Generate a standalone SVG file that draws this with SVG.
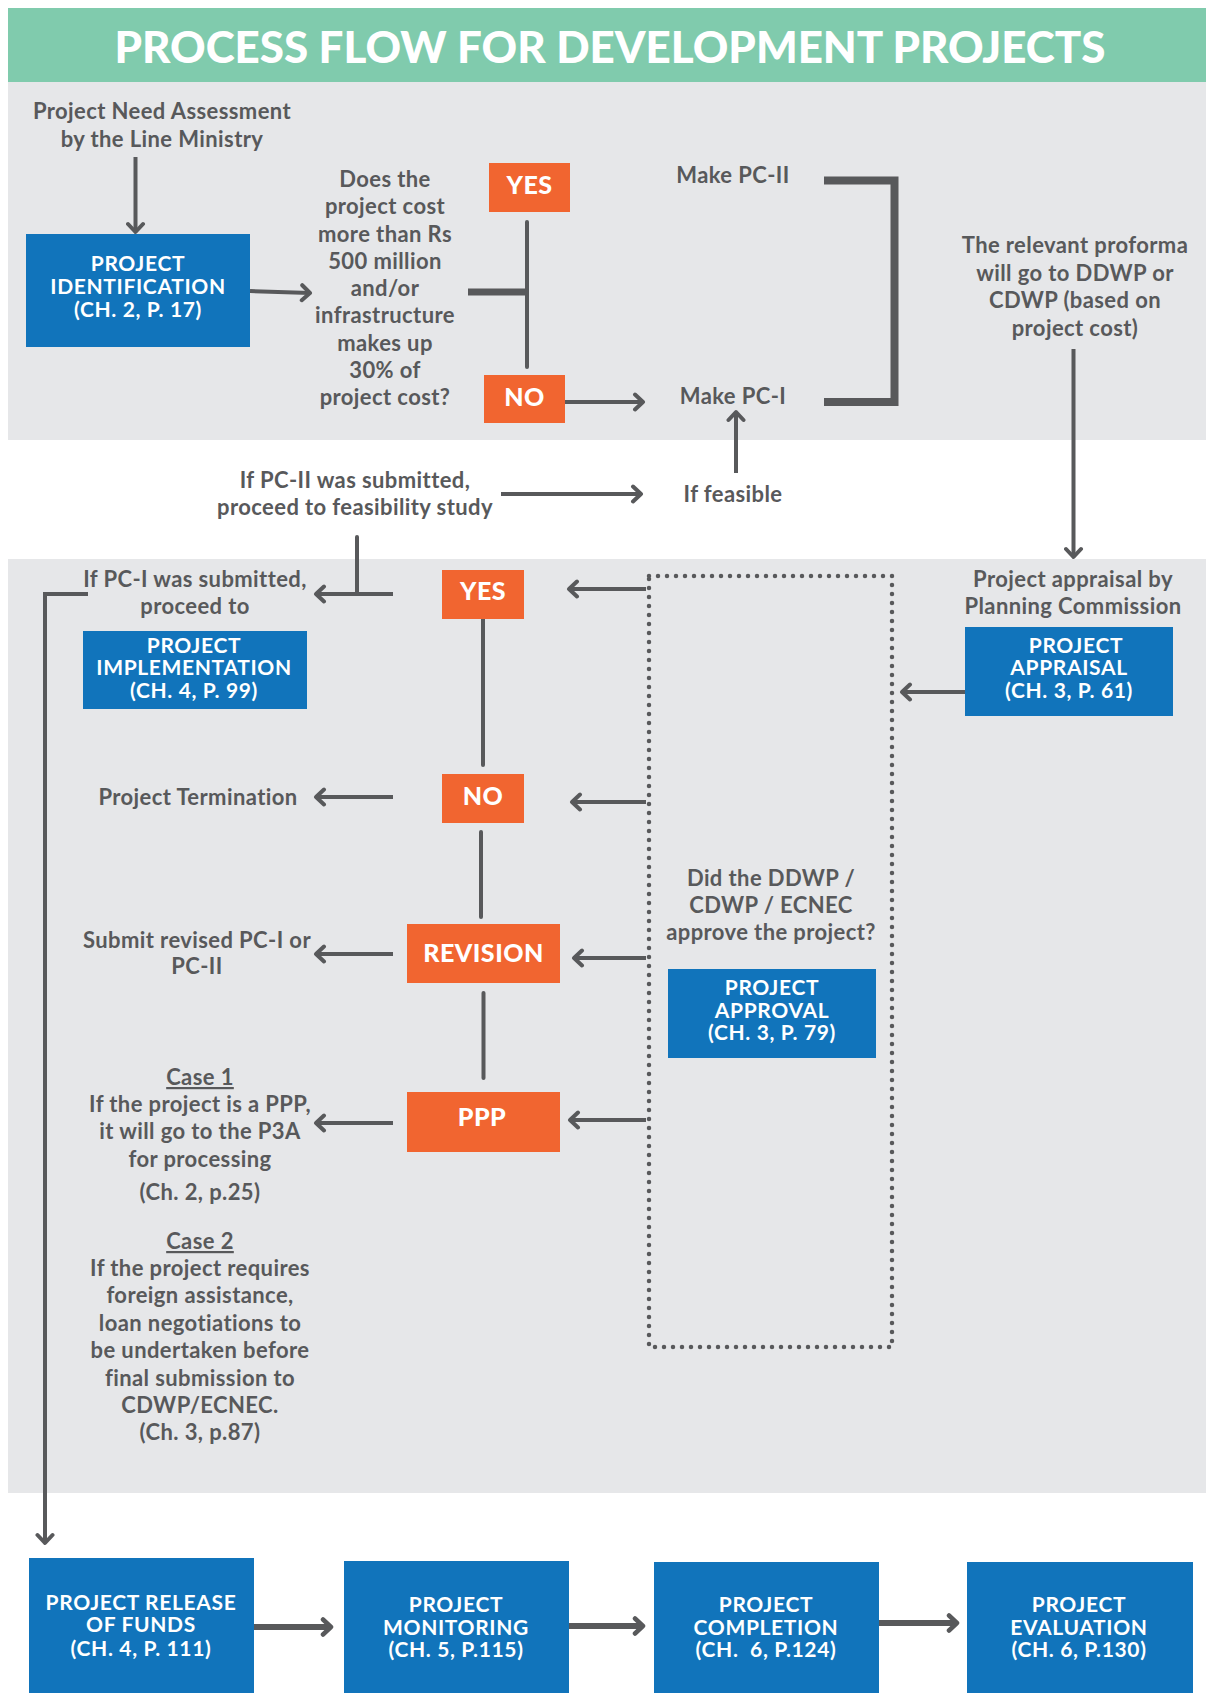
<svg xmlns="http://www.w3.org/2000/svg" width="1206" height="1693" viewBox="0 0 1206 1693">
<defs>
<style>
.bg{fill:#ffffff}
.band{fill:#80CBAD}
.panel{fill:#E6E7E9}
.blue{fill:#1174BB}
.orange{fill:#F16530}
.t{font-family:Lato,"Liberation Sans",sans-serif;font-weight:700;font-size:22px;letter-spacing:0.4px;fill:#58595B;text-anchor:middle}
.w{font-family:Lato,"Liberation Sans",sans-serif;font-weight:700;font-size:21px;letter-spacing:0.65px;fill:#ffffff;text-anchor:middle}
.o{font-family:Lato,"Liberation Sans",sans-serif;font-weight:900;font-size:25px;letter-spacing:0.5px;fill:#ffffff;text-anchor:middle}
.title{font-family:Lato,"Liberation Sans",sans-serif;font-weight:900;font-size:44px;fill:#ffffff;text-anchor:middle}
.c{fill:none;stroke:#58595B;stroke-width:4;stroke-linecap:round}
.ca{fill:none;stroke:#58595B;stroke-width:4;stroke-linecap:butt;marker-end:url(#ah)}
.thick{fill:none;stroke:#58595B;stroke-width:8;stroke-linejoin:miter}
.dot{fill:none;stroke:#58595B;stroke-width:4.5;stroke-dasharray:0 9;stroke-linecap:round}
</style>
<marker id="ah" viewBox="0 0 14 20" refX="11" refY="10" markerWidth="14" markerHeight="20" markerUnits="userSpaceOnUse" orient="auto">
<path d="M3,2.5 L11,10 L3,17.5" fill="none" stroke="#58595B" stroke-width="4" stroke-linecap="round" stroke-linejoin="round"/>
</marker>
<marker id="ah2" viewBox="0 0 14 20" refX="11" refY="10" markerWidth="14" markerHeight="20" markerUnits="userSpaceOnUse" orient="auto">
<path d="M3,2.5 L11,10 L3,17.5" fill="none" stroke="#58595B" stroke-width="4.5" stroke-linecap="round" stroke-linejoin="round"/>
</marker>
</defs>
<rect class="bg" x="0" y="0" width="1206" height="1693"/>
<g id="header">
<rect class="band" x="8" y="8" width="1198" height="74"/>
<text class="title" x="610" y="63" textLength="991" lengthAdjust="spacingAndGlyphs">PROCESS FLOW FOR DEVELOPMENT PROJECTS</text>
</g>
<rect class="panel" x="8" y="82" width="1198" height="358"/>
<rect class="panel" x="8" y="559" width="1198" height="934"/>

<g id="connectors">
<path class="ca" d="M135.5,157 V232"/>
<path class="ca" d="M250,291 L310,293"/>
<path d="M468,292 H529" fill="none" stroke="#58595B" stroke-width="7"/>
<path class="c" d="M527,222 V367"/>
<path class="ca" d="M565,402 H643"/>
<path class="thick" d="M824,180.5 H894.5 V402 H824"/>
<path class="ca" d="M1073.5,349 V557"/>
<path class="ca" d="M736,473 V412"/>
<path class="ca" d="M501,494 H641"/>
<path class="c" d="M357,537 V594"/>
<path class="ca" d="M393,594 H316"/>
<path class="ca" d="M88,594 H45 V1543" stroke-linejoin="miter"/>
<path class="ca" d="M646,589 H569"/>
<path class="c" d="M483,619 V765"/>
<path class="ca" d="M646,802 H572"/>
<path class="ca" d="M393,797 H316"/>
<path class="c" d="M481,832 V917"/>
<path class="ca" d="M646,958 H574"/>
<path class="ca" d="M393,954 H316"/>
<path class="c" d="M483.5,993 V1078"/>
<path class="ca" d="M646,1120 H570"/>
<path class="ca" d="M393,1123 H316"/>
<path class="ca" d="M965,692 H902"/>
<path class="ca" d="M254,1627 H331" style="stroke-width:6;marker-end:url(#ah2)"/>
<path class="ca" d="M569,1626 H643" style="stroke-width:6;marker-end:url(#ah2)"/>
<path class="ca" d="M879,1623 H957" style="stroke-width:6;marker-end:url(#ah2)"/>
</g>

<g id="need-assessment">
<text class="t" x="162" y="119">Project Need Assessment</text>
<text class="t" x="162" y="147">by the Line Ministry</text>
</g>
<g id="project-identification">
<rect class="blue" x="26" y="234" width="224" height="113"/>
<text class="w" x="138" y="271">PROJECT</text>
<text class="w" x="138" y="294">IDENTIFICATION</text>
<text class="w" x="138" y="317">(CH. 2, P. 17)</text>
</g>
<g id="cost-question">
<text class="t" x="385" y="187">Does the</text>
<text class="t" x="385" y="214">project cost</text>
<text class="t" x="385" y="241.5">more than Rs</text>
<text class="t" x="385" y="269">500 million</text>
<text class="t" x="385" y="296">and/or</text>
<text class="t" x="385" y="323">infrastructure</text>
<text class="t" x="385" y="350.5">makes up</text>
<text class="t" x="385" y="378">30% of</text>
<text class="t" x="385" y="405">project cost?</text>
</g>
<g id="yes-1">
<rect class="orange" x="489" y="163" width="81" height="49"/>
<text class="o" x="529.5" y="194">YES</text>
</g>
<g id="no-1">
<rect class="orange" x="484" y="375" width="81" height="48"/>
<text class="o" x="524.5" y="406">NO</text>
</g>
<g id="make-pc2"><text class="t" x="733" y="183">Make PC-II</text></g>
<g id="make-pc1"><text class="t" x="733" y="404">Make PC-I</text></g>
<g id="proforma">
<text class="t" x="1075" y="253">The relevant proforma</text>
<text class="t" x="1075" y="281">will go to DDWP or</text>
<text class="t" x="1075" y="308">CDWP (based on</text>
<text class="t" x="1075" y="336">project cost)</text>
</g>
<g id="pc2-submitted">
<text class="t" x="355" y="488">If PC-II was submitted,</text>
<text class="t" x="355" y="515">proceed to feasibility study</text>
</g>
<g id="if-feasible"><text class="t" x="733" y="502">If feasible</text></g>
<g id="pc1-submitted">
<text class="t" x="195" y="587">If PC-I was submitted,</text>
<text class="t" x="195" y="614">proceed to</text>
</g>
<g id="project-implementation">
<rect class="blue" x="83" y="631" width="224" height="78"/>
<text class="w" x="194" y="653">PROJECT</text>
<text class="w" x="194" y="675">IMPLEMENTATION</text>
<text class="w" x="194" y="698">(CH. 4, P. 99)</text>
</g>
<g id="yes-2">
<rect class="orange" x="442" y="570" width="82" height="49"/>
<text class="o" x="483" y="600">YES</text>
</g>
<g id="no-2">
<rect class="orange" x="442" y="774" width="82" height="49"/>
<text class="o" x="483" y="805">NO</text>
</g>
<g id="revision">
<rect class="orange" x="407" y="924" width="153" height="59"/>
<text class="o" x="483.5" y="962">REVISION</text>
</g>
<g id="ppp">
<rect class="orange" x="407" y="1092" width="153" height="60"/>
<text class="o" x="482" y="1126">PPP</text>
</g>
<g id="project-termination"><text class="t" x="198" y="805">Project Termination</text></g>
<g id="submit-revised">
<text class="t" x="197" y="948">Submit revised PC-I or</text>
<text class="t" x="197" y="974">PC-II</text>
</g>
<g id="case-1">
<text class="t" x="200" y="1085" text-decoration="underline">Case 1</text>
<text class="t" x="200" y="1112">If the project is a PPP,</text>
<text class="t" x="200" y="1139">it will go to the P3A</text>
<text class="t" x="200" y="1167">for processing</text>
<text class="t" x="200" y="1200">(Ch. 2, p.25)</text>
</g>
<g id="case-2">
<text class="t" x="200" y="1249" text-decoration="underline">Case 2</text>
<text class="t" x="200" y="1276">If the project requires</text>
<text class="t" x="200" y="1303">foreign assistance,</text>
<text class="t" x="200" y="1331">loan negotiations to</text>
<text class="t" x="200" y="1358">be undertaken before</text>
<text class="t" x="200" y="1386">final submission to</text>
<text class="t" x="200" y="1413">CDWP/ECNEC.</text>
<text class="t" x="200" y="1440">(Ch. 3, p.87)</text>
</g>
<g id="approval-group">
<rect class="dot" x="649" y="576" width="243" height="771"/>
<text class="t" x="771" y="886">Did the DDWP /</text>
<text class="t" x="771" y="913">CDWP / ECNEC</text>
<text class="t" x="771" y="940">approve the project?</text>
</g>
<g id="project-approval">
<rect class="blue" x="668" y="969" width="208" height="89"/>
<text class="w" x="772" y="995">PROJECT</text>
<text class="w" x="772" y="1018">APPROVAL</text>
<text class="w" x="772" y="1040">(CH. 3, P. 79)</text>
</g>
<g id="appraisal-label">
<text class="t" x="1073" y="587">Project appraisal by</text>
<text class="t" x="1073" y="614">Planning Commission</text>
</g>
<g id="project-appraisal">
<rect class="blue" x="965" y="627" width="208" height="89"/>
<text class="w" x="1076" y="653">PROJECT</text>
<text class="w" x="1069" y="675">APPRAISAL</text>
<text class="w" x="1069" y="698">(CH. 3, P. 61)</text>
</g>
<g id="release-of-funds">
<rect class="blue" x="29" y="1558" width="225" height="135"/>
<text class="w" x="141" y="1610">PROJECT RELEASE</text>
<text class="w" x="141" y="1632">OF FUNDS</text>
<text class="w" x="141" y="1656">(CH. 4, P. 111)</text>
</g>
<g id="monitoring">
<rect class="blue" x="344" y="1561" width="225" height="132"/>
<text class="w" x="456" y="1612">PROJECT</text>
<text class="w" x="456" y="1635">MONITORING</text>
<text class="w" x="456" y="1657">(CH. 5, P.115)</text>
</g>
<g id="completion">
<rect class="blue" x="654" y="1562" width="225" height="131"/>
<text class="w" x="766" y="1612">PROJECT</text>
<text class="w" x="766" y="1635">COMPLETION</text>
<text class="w" x="766" y="1657" xml:space="preserve">(CH.  6, P.124)</text>
</g>
<g id="evaluation">
<rect class="blue" x="967" y="1562" width="226" height="131"/>
<text class="w" x="1079" y="1612">PROJECT</text>
<text class="w" x="1079" y="1635">EVALUATION</text>
<text class="w" x="1079" y="1657" xml:space="preserve">(CH. 6, P.130)</text>
</g>
</svg>
